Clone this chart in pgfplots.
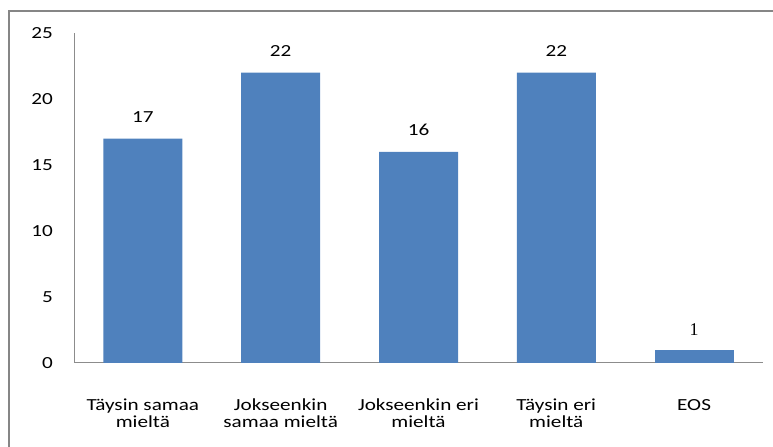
\documentclass[border=0pt]{standalone}
\usepackage{fontspec}
\setmainfont{Carlito}[FakeStretch=1.25]
\newfontfamily\oneserif{Liberation Serif}
\usepackage{pgfplots}
\pgfplotsset{compat=1.18}
\definecolor{barblue}{HTML}{4F81BD}
\definecolor{framegray}{HTML}{868686}
\definecolor{axisgray}{HTML}{8C8C8C}

\begin{document}
\begin{tikzpicture}
\path[use as bounding box] (0,0) rectangle (773bp,447bp);
\draw[framegray, line width=2bp] (9bp,-5bp) -- (9bp,436bp) -- (790bp,436bp);
\begin{axis}[
  at={(74bp,84bp)}, anchor=south west,
  width=689bp, height=330bp, scale only axis,
  xmin=-0.5, xmax=4.5, ymin=0, ymax=25,
  axis x line*=bottom, axis y line*=left,
  axis line style={axisgray, line width=1bp},
  major tick length=0pt,
  /pgf/number format/assume math mode=true,
  ytick={0,5,10,15,20,25},
  xtick={0,1,2,3,4},
  xticklabels={{Täysin samaa\\mieltä},{Jokseenkin\\samaa mieltä},{Jokseenkin eri\\mieltä},{Täysin eri\\mieltä},{EOS}},
  tick label style={font=\fontsize{17}{17}\selectfont, inner sep=0pt},
  yticklabel style={anchor=east},
  yticklabel shift={21bp},
  xticklabel style={anchor=north, align=center},
  xticklabel shift={36bp},
  ybar, bar width=79bp, bar shift=0pt,
  nodes near coords={\pgfmathprintnumber{\pgfplotspointmeta}},
  every node near coord/.append style={font=\fontsize{17}{15}\selectfont, inner sep=0pt, anchor=south, yshift=16bp},
]
\addplot[fill=barblue, draw=none] coordinates {(0,17) (1,22) (2,16) (3,22)};
\addplot[fill=barblue, draw=none,
  every node near coord/.append style={font=\oneserif\fontsize{18}{15}\selectfont, yshift=-2bp}]
  coordinates {(4,1)};
\end{axis}
\end{tikzpicture}
\end{document}
